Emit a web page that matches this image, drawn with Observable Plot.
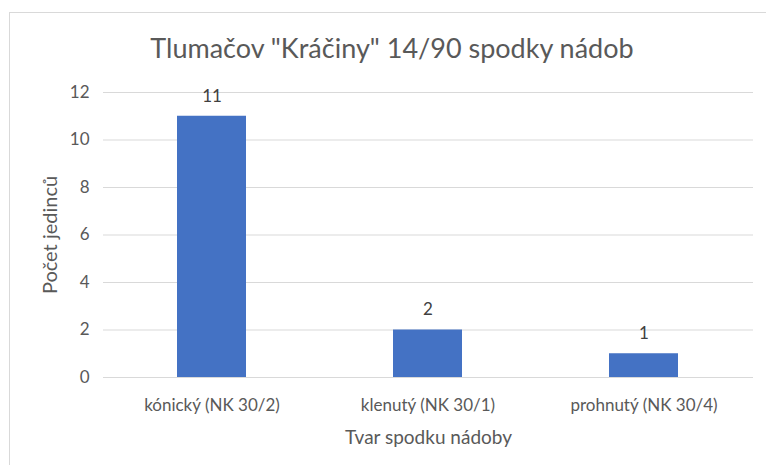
<!DOCTYPE html>
<html>
<head>
<meta charset="utf-8">
<script src="https://cdn.jsdelivr.net/npm/d3@7"></script>
<script src="https://cdn.jsdelivr.net/npm/@observablehq/plot@0.6"></script>
<style>
  html, body { margin: 0; padding: 0; background: #fff; }
  #wrap { position: relative; width: 766px; height: 465px; overflow: hidden; background: #fff; font-family: Lato, "Open Sans", sans-serif; }
  #frame { position: absolute; left: 9px; top: 12px; width: 800px; height: 500px; border: 1px solid #d9d9d9; box-sizing: border-box; }
  #title { position: relative; height: 60px; }
  #title span { position: absolute; left: 0; width: 784px; top: 34px; text-align: center; font-size: 27px; line-height: 27px; color: #595959; white-space: nowrap; }
  #chart { position: relative; }
</style>
</head>
<body>
<div id="wrap">
  <div id="frame"></div>
  <div id="title"><span>Tlumačov "Kráčiny" 14/90 spodky nádob</span></div>
  <div id="chart"></div>
</div>
<script>
const categories = ["kónický (NK 30/2)", "klenutý (NK 30/1)", "prohnutý (NK 30/4)"];
const counts = [11, 2, 1];
const yTicks = [0, 2, 4, 6, 8, 10, 12];
const xTitle = "Tvar spodku nádoby";
const yTitle = "Počet jedinců";

const data = categories.map((c, i) => ({category: c, count: counts[i]}));

const chart = Plot.plot({
  width: 766,
  height: 405,
  marginTop: 32,
  marginBottom: 88,
  marginLeft: 103,
  marginRight: 13,
  style: {fontFamily: "Lato, 'Open Sans', sans-serif", color: "#595959", background: "transparent", overflow: "visible"},
  x: {domain: categories, paddingInner: 0.68, paddingOuter: 0.34, label: null},
  y: {domain: [0, 12], ticks: yTicks, label: null},
  marks: [
    Plot.ruleY(yTicks, {stroke: "#d9d9d9", strokeWidth: 1}),
    Plot.barY(data, {x: "category", y: "count", fill: "#4472C4"}),
    Plot.text(data, {x: "category", y: "count", text: d => String(d.count), dy: -20, fontSize: 17, fill: "#404040"}),
    Plot.axisY({ticks: yTicks, tickSize: 0, tickPadding: 14, fontSize: 17, label: null}),
    Plot.axisX({tickSize: 0, tickPadding: 21, fontSize: 17, label: null}),
    Plot.text([xTitle], {frameAnchor: "bottom", lineAnchor: "bottom", dy: 66, text: d => d, fontSize: 19, fill: "#595959"}),
    Plot.text([yTitle], {frameAnchor: "left", textAnchor: "middle", lineAnchor: "middle", dx: -53, rotate: -90, text: d => d, fontSize: 20, fill: "#595959"})
  ]
});
document.getElementById("chart").appendChild(chart);
</script>
</body>
</html>
